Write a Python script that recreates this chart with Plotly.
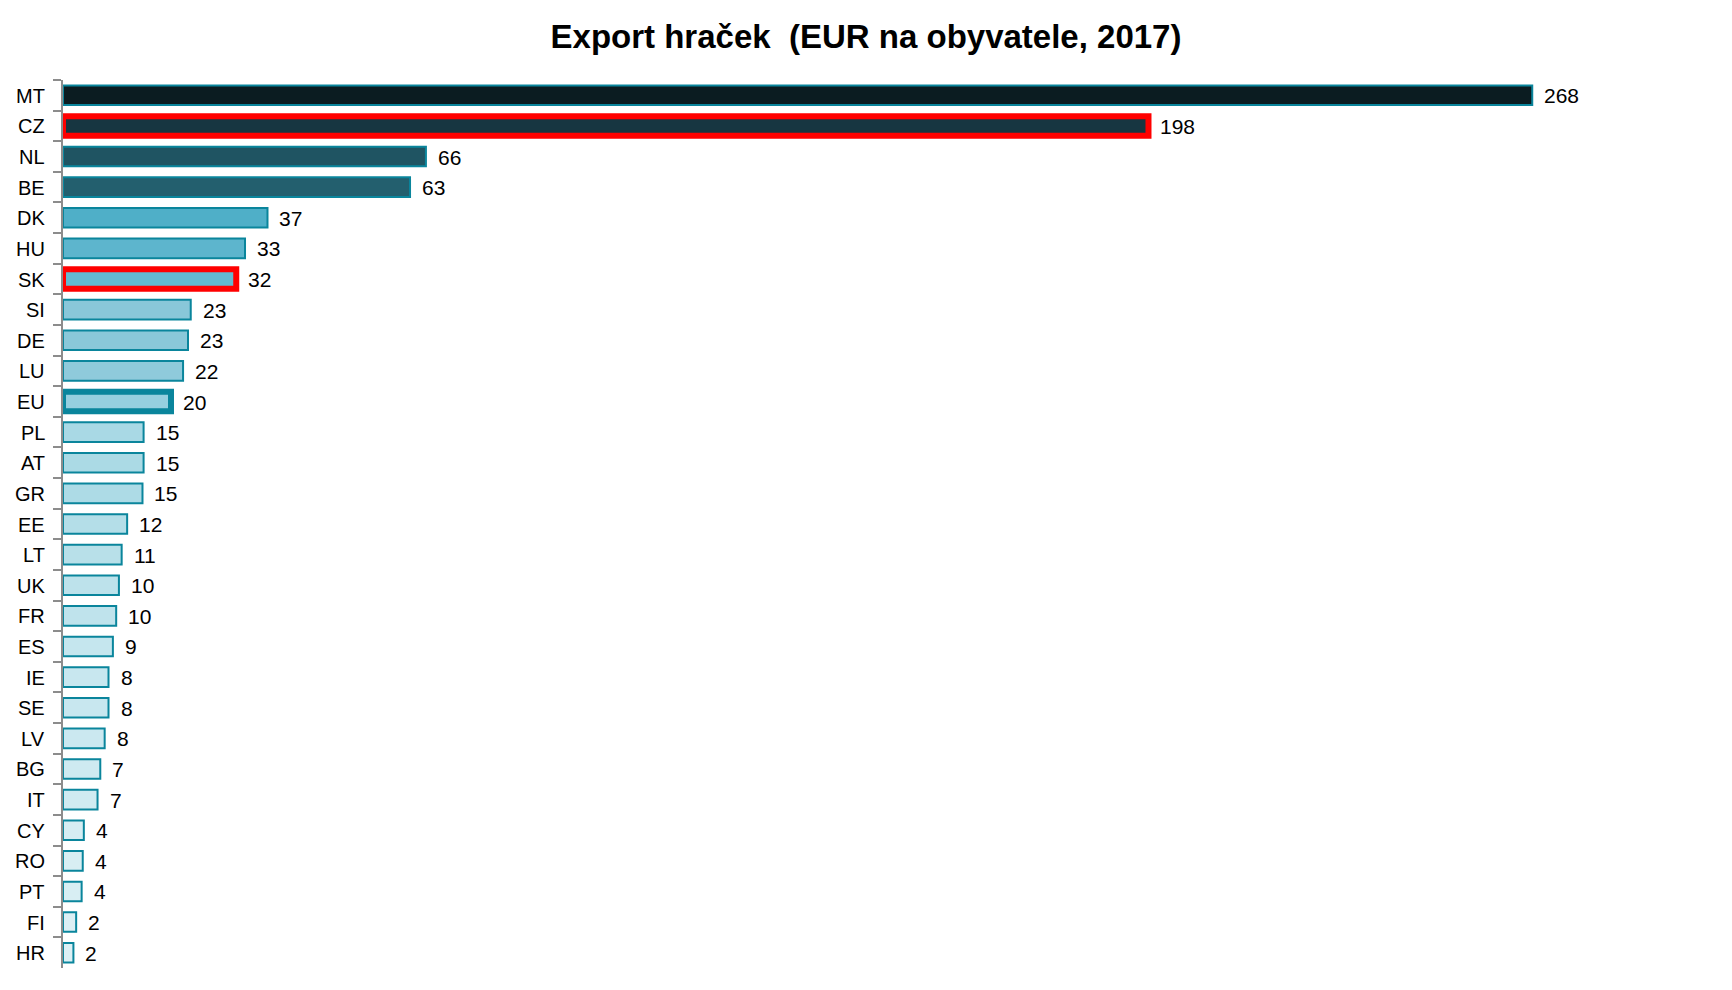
import plotly.graph_objects as go

countries = ["MT", "CZ", "NL", "BE", "DK", "HU", "SK", "SI", "DE", "LU", "EU", "PL", "AT", "GR",
             "EE", "LT", "UK", "FR", "ES", "IE", "SE", "LV", "BG", "IT", "CY", "RO", "PT", "FI", "HR"]
values = [268, 198, 66, 63, 37, 33, 32, 23, 23, 22, 20, 15, 15, 15,
          12, 11, 10, 10, 9, 8, 8, 8, 7, 7, 4, 4, 4, 2, 2]
# exact bar lengths (labels are rounded)
lengths = [268, 198, 66.2, 63.3, 37.3, 33.2, 31.6, 23.3, 22.8, 21.9, 19.7, 14.7, 14.7, 14.5,
           11.7, 10.7, 10.2, 9.7, 9.1, 8.3, 8.3, 7.6, 6.8, 6.3, 3.8, 3.6, 3.4, 2.4, 1.9]
fill_colors = ["#0B1C21", "#173641", "#1F5462", "#235F6E", "#4FAFC8", "#5DB5CD", "#64B9D0",
               "#89C7D9", "#8AC8D9", "#8FCADB", "#96CFDF", "#A9D9E5", "#ABDAE5", "#ADDBE6",
               "#B4DEE8", "#B8E0E9", "#BDE2EB", "#BFE3EC", "#C5E6EE", "#C8E7EF", "#C8E7EF",
               "#CBE8F0", "#CEEAF1", "#D0EBF1", "#D6EDF3", "#D8EEF3", "#D8EEF3", "#DCEFF4", "#DDF0F5"]
highlight_red = ["CZ", "SK"]
highlight_eu = ["EU"]

title = "<b>Export hraček  (EUR na obyvatele, 2017)</b>"

TEAL = "#0A859C"
FONT = "Liberation Sans, Arial"
line_colors = ["#FF0000" if c in highlight_red else TEAL for c in countries]
line_widths = [6 if (c in highlight_red or c in highlight_eu) else 2 for c in countries]

fig = go.Figure()
fig.add_trace(go.Bar(
    x=lengths, y=countries, orientation="h", width=0.64,
    marker=dict(color=fill_colors, line=dict(color=line_colors, width=line_widths)),
    hoverinfo="skip",
))

# value labels
for c, v, L in zip(countries, values, lengths):
    fig.add_annotation(x=L, y=c, text=str(v), showarrow=False, xanchor="left",
                       xshift=10, yshift=-0.5,
                       font=dict(family=FONT, size=21, color="#000000"))

# category labels (placed to the left of the axis)
for c in countries:
    fig.add_annotation(x=0, xref="paper", y=c, yref="y", text=c, showarrow=False,
                       xanchor="right", xshift=-16, yshift=-0.5,
                       font=dict(family=FONT, size=20, color="#000000"))

W, H = 1716, 974  # page body has 8px default margin
fig.update_layout(
    width=W, height=H,
    margin=dict(l=55, r=24, t=72, b=14),
    paper_bgcolor="white", plot_bgcolor="white",
    title=dict(text=title, x=0.5, xanchor="center", y=1 - 28.5 / H, yanchor="middle",
               font=dict(family=FONT, size=33, color="#000000")),
    showlegend=False,
    bargap=0.36,
)
fig.update_xaxes(visible=False, range=[0, 298.6])
fig.update_yaxes(type="category", autorange="reversed", tickson="boundaries",
                 ticks="outside", ticklen=8, tickwidth=2, tickcolor="#8C8C8C",
                 showline=True, linecolor="#8C8C8C", linewidth=2, showgrid=False,
                 showticklabels=False)

fig.write_html("out.html")
